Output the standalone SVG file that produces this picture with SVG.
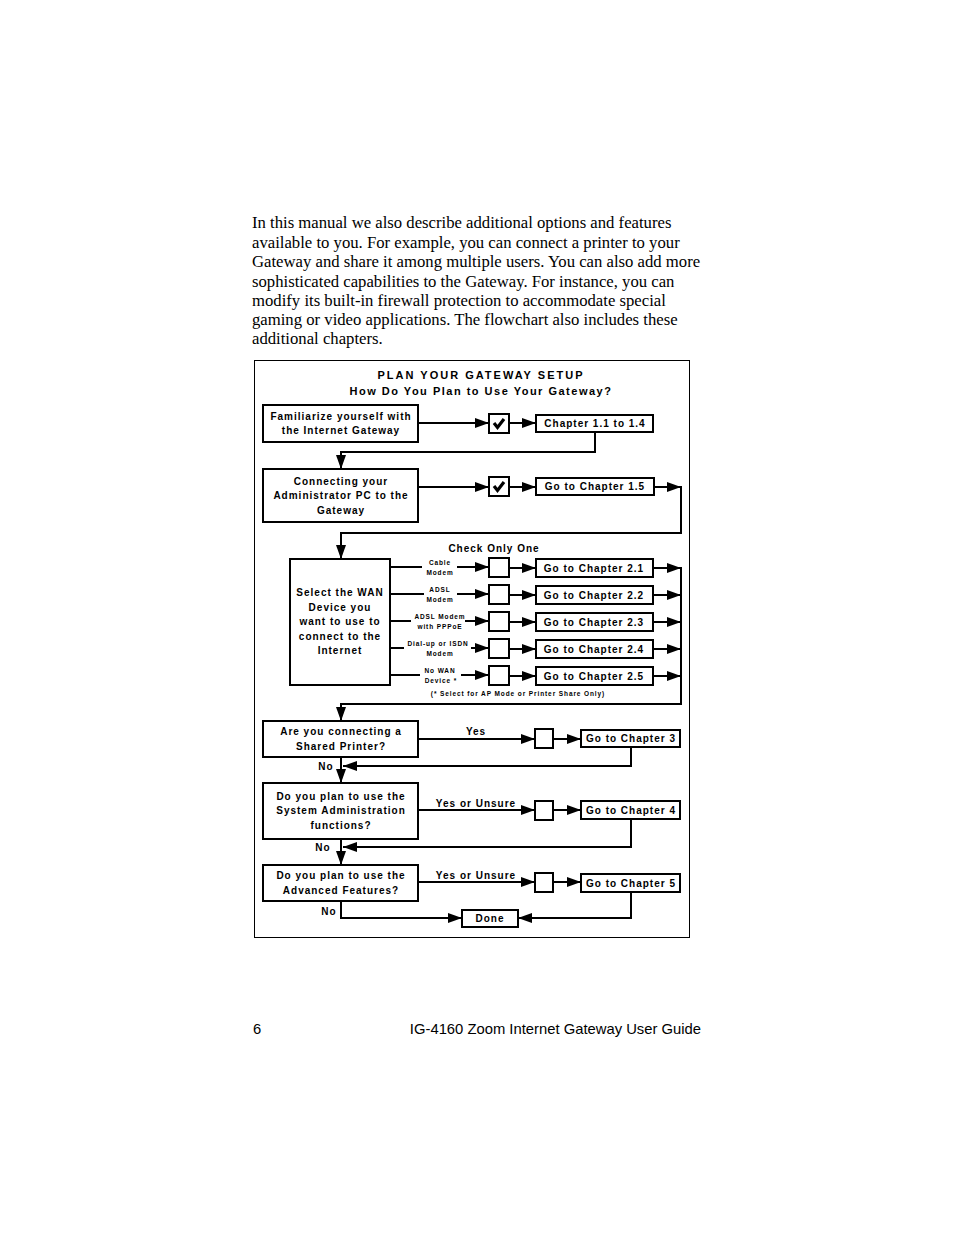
<svg xmlns="http://www.w3.org/2000/svg" width="954" height="1235" viewBox="0 0 954 1235">
<defs>
<marker id="ah" markerUnits="userSpaceOnUse" markerWidth="14" markerHeight="10" refX="14" refY="5" orient="auto">
<path d="M0,0 L14,5 L0,10 z" fill="#000"/>
</marker>
</defs>
<style>
.body{font-family:"Liberation Serif",serif;font-size:16.7px;fill:#000}
.foot{font-family:"Liberation Sans",sans-serif;font-size:14.8px;fill:#000}
.t{font-family:"Liberation Sans",Arial,sans-serif;font-weight:bold;font-size:10px;letter-spacing:1px;fill:#000;text-anchor:middle}
.ttl{font-family:"Liberation Sans",Arial,sans-serif;font-weight:bold;font-size:11px;fill:#000;text-anchor:middle}
.s{font-family:"Liberation Sans",Arial,sans-serif;font-weight:bold;font-size:6.5px;letter-spacing:0.9px;fill:#000;text-anchor:middle}
.box{fill:#fff;stroke:#000;stroke-width:2}
.ln{fill:none;stroke:#000;stroke-width:2}
.arr{fill:none;stroke:#000;stroke-width:2;marker-end:url(#ah)}
</style>
<rect width="954" height="1235" fill="#fff"/>
<g id="bodytext">
<text class="body" x="252" y="228">In this manual we also describe additional options and features</text>
<text class="body" x="252" y="248">available to you. For example, you can connect a printer to your</text>
<text class="body" x="252" y="267">Gateway and share it among multiple users. You can also add more</text>
<text class="body" x="252" y="287">sophisticated capabilities to the Gateway. For instance, you can</text>
<text class="body" x="252" y="306">modify its built-in firewall protection to accommodate special</text>
<text class="body" x="252" y="325">gaming or video applications. The flowchart also includes these</text>
<text class="body" x="252" y="344">additional chapters.</text>
</g>
<g id="footer">
<text class="foot" x="253" y="1034">6</text>
<text class="foot" x="701" y="1034" text-anchor="end">IG-4160 Zoom Internet Gateway User Guide</text>
</g>
<rect id="frame" x="254.5" y="360.5" width="435" height="577" fill="none" stroke="#000" stroke-width="1"/>
<g id="title">
<text class="ttl" x="481" y="379" letter-spacing="2">PLAN YOUR GATEWAY SETUP</text>
<text class="ttl" x="481" y="395" letter-spacing="1.5">How Do You Plan to Use Your Gateway?</text>
</g>
<g id="connectors">
<path class="arr" d="M418,423 H489"/>
<path class="arr" d="M509,423 H536"/>
<path class="arr" d="M595,432 V452 H341 V469"/>
<path class="arr" d="M418,487 H489"/>
<path class="arr" d="M509,487 H536"/>
<path class="arr" d="M654,487 H681"/>
<path class="arr" d="M681,486 V533 H341 V559"/>
<path class="ln" d="M390,567 H422"/><path class="arr" d="M457,567 H489"/>
<path class="ln" d="M390,594 H424"/><path class="arr" d="M457,594 H489"/>
<path class="ln" d="M390,621 H411"/><path class="arr" d="M465,621 H489"/>
<path class="ln" d="M390,648 H404"/><path class="arr" d="M471,648 H489"/>
<path class="ln" d="M390,675 H420"/><path class="arr" d="M461,675 H489"/>
<path class="arr" d="M509,568 H536"/>
<path class="arr" d="M509,595 H536"/>
<path class="arr" d="M509,622 H536"/>
<path class="arr" d="M509,649 H536"/>
<path class="arr" d="M509,676 H536"/>
<path class="arr" d="M653,568 H681"/>
<path class="arr" d="M653,595 H681"/>
<path class="arr" d="M653,622 H681"/>
<path class="arr" d="M653,649 H681"/>
<path class="arr" d="M653,676 H681"/>
<path class="arr" d="M681,567 V704 H341 V721"/>
<path class="arr" d="M418,739 H535"/>
<path class="arr" d="M553,739 H581"/>
<path class="arr" d="M631,747 V766 H343"/>
<path class="arr" d="M341,757 V783"/>
<path class="arr" d="M418,810 H535"/>
<path class="arr" d="M553,810 H581"/>
<path class="arr" d="M631,819 V847 H343"/>
<path class="arr" d="M341,839 V865"/>
<path class="arr" d="M418,882 H535"/>
<path class="arr" d="M553,882 H581"/>
<path class="arr" d="M631,892 V918 H518"/>
<path class="arr" d="M341,901 V918 H462"/>
</g>
<g id="connector-labels">
<text class="t" x="494" y="552">Check Only One</text>
<text class="s" x="440" y="565">Cable</text><text class="s" x="440" y="575">Modem</text>
<text class="s" x="440" y="592">ADSL</text><text class="s" x="440" y="602">Modem</text>
<text class="s" x="440" y="619">ADSL Modem</text><text class="s" x="440" y="629">with PPPoE</text>
<text class="s" x="438" y="646">Dial-up or ISDN</text><text class="s" x="440" y="656">Modem</text>
<text class="s" x="440" y="673">No WAN</text><text class="s" x="441" y="683">Device *</text>
<text class="s" x="518" y="696" letter-spacing="0.6">(* Select for AP Mode or Printer Share Only)</text>
<text class="t" x="476" y="735">Yes</text>
<text class="t" x="326" y="770">No</text>
<text class="t" x="476" y="807">Yes or Unsure</text>
<text class="t" x="323" y="851">No</text>
<text class="t" x="476" y="879">Yes or Unsure</text>
<text class="t" x="329" y="915">No</text>
</g>
<g id="n-familiarize">
<rect class="box" x="263" y="405" width="155" height="37"/>
<text class="t" x="341" y="420">Familiarize yourself with</text>
<text class="t" x="341" y="434">the Internet Gateway</text>
</g>
<g id="n-check1">
<rect class="box" x="489" y="414" width="20" height="19"/>
<path d="M494,423 L497.5,427.5 L504,419" fill="none" stroke="#000" stroke-width="3.2"/>
</g>
<g id="n-ch11">
<rect class="box" x="536" y="415" width="117" height="17"/>
<text class="t" x="595" y="427">Chapter 1.1 to 1.4</text>
</g>
<g id="n-connecting">
<rect class="box" x="263" y="469" width="155" height="53"/>
<text class="t" x="341" y="485">Connecting your</text>
<text class="t" x="341" y="499">Administrator PC to the</text>
<text class="t" x="341" y="514">Gateway</text>
</g>
<g id="n-check2">
<rect class="box" x="489" y="477" width="20" height="19"/>
<path d="M494,486 L497.5,490.5 L504,482" fill="none" stroke="#000" stroke-width="3.2"/>
</g>
<g id="n-ch15">
<rect class="box" x="536" y="478" width="118" height="17"/>
<text class="t" x="595" y="490">Go to Chapter 1.5</text>
</g>
<g id="n-wan">
<rect class="box" x="290" y="559" width="100" height="126"/>
<text class="t" x="340" y="596">Select the WAN</text>
<text class="t" x="340" y="611">Device you</text>
<text class="t" x="340" y="625">want to use to</text>
<text class="t" x="340" y="640">connect to the</text>
<text class="t" x="340" y="654">Internet</text>
</g>
<g id="n-cb21"><rect class="box" x="489" y="558" width="20" height="19"/></g>
<g id="n-cb22"><rect class="box" x="489" y="585" width="20" height="19"/></g>
<g id="n-cb23"><rect class="box" x="489" y="612" width="20" height="19"/></g>
<g id="n-cb24"><rect class="box" x="489" y="639" width="20" height="19"/></g>
<g id="n-cb25"><rect class="box" x="489" y="666" width="20" height="19"/></g>
<g id="n-ch21"><rect class="box" x="536" y="559" width="117" height="18"/><text class="t" x="594" y="572">Go to Chapter 2.1</text></g>
<g id="n-ch22"><rect class="box" x="536" y="586" width="117" height="18"/><text class="t" x="594" y="599">Go to Chapter 2.2</text></g>
<g id="n-ch23"><rect class="box" x="536" y="613" width="117" height="18"/><text class="t" x="594" y="626">Go to Chapter 2.3</text></g>
<g id="n-ch24"><rect class="box" x="536" y="640" width="117" height="18"/><text class="t" x="594" y="653">Go to Chapter 2.4</text></g>
<g id="n-ch25"><rect class="box" x="536" y="667" width="117" height="18"/><text class="t" x="594" y="680">Go to Chapter 2.5</text></g>
<g id="n-printer">
<rect class="box" x="263" y="721" width="155" height="36"/>
<text class="t" x="341" y="735">Are you connecting a</text>
<text class="t" x="341" y="750">Shared Printer?</text>
</g>
<g id="n-cb3"><rect class="box" x="535" y="729" width="18" height="19"/></g>
<g id="n-ch3"><rect class="box" x="581" y="730" width="99" height="17"/><text class="t" x="631" y="742">Go to Chapter 3</text></g>
<g id="n-sysadmin">
<rect class="box" x="263" y="783" width="155" height="56"/>
<text class="t" x="341" y="800">Do you plan to use the</text>
<text class="t" x="341" y="814">System Administration</text>
<text class="t" x="341" y="829">functions?</text>
</g>
<g id="n-cb4"><rect class="box" x="535" y="801" width="18" height="19"/></g>
<g id="n-ch4"><rect class="box" x="581" y="801" width="99" height="18"/><text class="t" x="631" y="814">Go to Chapter 4</text></g>
<g id="n-advanced">
<rect class="box" x="263" y="865" width="155" height="36"/>
<text class="t" x="341" y="879">Do you plan to use the</text>
<text class="t" x="341" y="894">Advanced Features?</text>
</g>
<g id="n-cb5"><rect class="box" x="535" y="873" width="18" height="19"/></g>
<g id="n-ch5"><rect class="box" x="581" y="874" width="99" height="18"/><text class="t" x="631" y="887">Go to Chapter 5</text></g>
<g id="n-done"><rect class="box" x="462" y="910" width="56" height="17"/><text class="t" x="490" y="922">Done</text></g>
</svg>
